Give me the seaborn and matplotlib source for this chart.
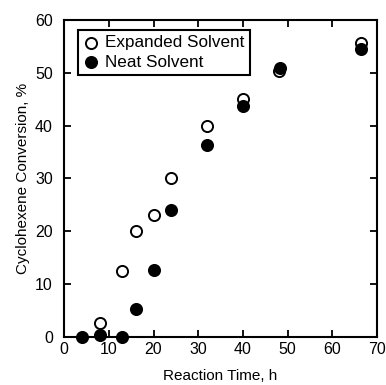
"""
Cyclohexene conversion vs reaction time, expanded vs neat solvent.
"""
import matplotlib
matplotlib.use("Agg")
import matplotlib.pyplot as plt
import pandas as pd
import seaborn as sns

# data
time_expanded = [8, 13, 16, 20, 24, 32, 40, 48, 66.5]
conv_expanded = [2.7, 12.5, 20.0, 23.0, 30.0, 40.0, 45.1, 50.4, 55.7]
time_neat = [4, 8, 13, 16, 20, 24, 32, 40, 48.2, 66.5]
conv_neat = [0.0, 0.3, 0.0, 5.2, 12.6, 24.0, 36.3, 43.8, 51.0, 54.5]

sns.set_style("ticks")
plt.rcParams["font.family"] = ["Liberation Sans", "DejaVu Sans"]
plt.rcParams["text.color"] = "black"
plt.rcParams["axes.labelcolor"] = "black"

df_exp = pd.DataFrame({"time": time_expanded, "conv": conv_expanded})
df_neat = pd.DataFrame({"time": time_neat, "conv": conv_neat})

fig = plt.figure(figsize=(3.86, 3.85), dpi=100)
ax = fig.add_axes([0.166, 0.125, 0.811, 0.823])

sns.scatterplot(
    data=df_exp, x="time", y="conv", ax=ax, s=64,
    facecolor="white", edgecolor="black", linewidth=1.4,
    label="Expanded Solvent", zorder=3, clip_on=False,
)
sns.scatterplot(
    data=df_neat, x="time", y="conv", ax=ax, s=64,
    color="black", edgecolor="black", linewidth=1.4,
    label="Neat Solvent", zorder=4, clip_on=False,
)

ax.set_xlim(0, 70)
ax.set_ylim(0, 60)
ax.set_xticks(range(0, 71, 10))
ax.set_yticks(range(0, 61, 10))
ax.tick_params(direction="in", length=5, width=1.3, top=True, right=True,
               labelsize=11.5, colors="black", labelcolor="black")
ax.tick_params(axis="y", pad=8)
ax.tick_params(axis="x", pad=4)
for s in ax.spines.values():
    s.set_linewidth(1.5)
    s.set_color("black")

ax.set_xlabel("Reaction Time, h", fontsize=11, labelpad=8)
ax.set_ylabel("Cyclohexene Conversion, %", fontsize=11, labelpad=4)

leg = ax.legend(loc="upper left", bbox_to_anchor=(0.045, 0.968), frameon=True,
                fancybox=False, fontsize=12.3, handletextpad=0.4,
                borderpad=0.3, labelspacing=0.25, handlelength=0.9,
                borderaxespad=0, markerscale=1.0)
leg.get_frame().set_edgecolor("black")
leg.get_frame().set_linewidth(1.5)
leg.get_frame().set_alpha(1)

fig.savefig("out.png", dpi=100)
